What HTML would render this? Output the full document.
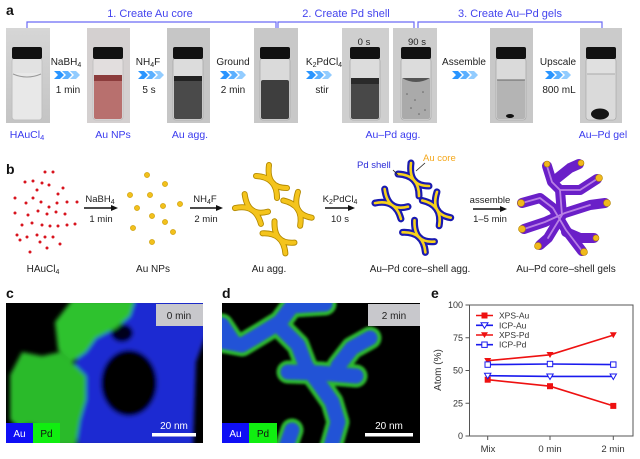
<!DOCTYPE html>
<html><head><meta charset="utf-8"><style>
html,body{margin:0;padding:0;background:#fff;}
svg{display:block;}
text{font-family:"Liberation Sans",sans-serif;}
</style></head><body>
<svg width="640" height="459" viewBox="0 0 640 459" xmlns="http://www.w3.org/2000/svg">
<defs>
  <linearGradient id="bg" x1="0" x2="0" y1="0" y2="1">
    <stop offset="0" stop-color="#d6d6d6"/><stop offset="1" stop-color="#c4c4c4"/>
  </linearGradient>
  <g id="chevs">
    <polygon points="0,0 6,0 10,4 6,8 0,8 4,4" fill="#2a95ff"/>
    <polygon points="8,0 14,0 18,4 14,8 8,8 12,4" fill="#5cb0ff"/>
    <polygon points="16,0 22,0 26,4 22,8 16,8 20,4" fill="#92ccff"/>
  </g>
  <g id="arcx">
    <path d="M-2,-17 Q-5,6 16,6" fill="none" stroke="#b48a00" stroke-width="6" stroke-linecap="round"/>
    <path d="M-15,-6 Q6,-5 6,16" fill="none" stroke="#b48a00" stroke-width="6" stroke-linecap="round"/>
    <path d="M-2,-17 Q-5,6 16,6" fill="none" stroke="#f4c41c" stroke-width="4.2" stroke-linecap="round"/>
    <path d="M-15,-6 Q6,-5 6,16" fill="none" stroke="#f4c41c" stroke-width="4.2" stroke-linecap="round"/>
  </g>
  <g id="csx">
    <path d="M-2,-17 Q-5,6 16,6" fill="none" stroke="#1a1ab0" stroke-width="7" stroke-linecap="round"/>
    <path d="M-15,-6 Q6,-5 6,16" fill="none" stroke="#1a1ab0" stroke-width="7" stroke-linecap="round"/>
    <path d="M-2,-17 Q-5,6 16,6" fill="none" stroke="#f7d21c" stroke-width="2.6" stroke-linecap="round"/>
    <path d="M-15,-6 Q6,-5 6,16" fill="none" stroke="#f7d21c" stroke-width="2.6" stroke-linecap="round"/>
  </g>
  <filter id="blur2"><feGaussianBlur stdDeviation="2.2"/></filter>
  <filter id="blur1"><feGaussianBlur stdDeviation="1.2"/></filter>
  <clipPath id="cpc"><rect x="6" y="303" width="197" height="140"/></clipPath>
  <clipPath id="cpd"><rect x="222" y="303" width="198" height="140"/></clipPath>
</defs>

<rect width="640" height="459" fill="#fff"/>

<!-- ===== Panel a ===== -->
<text x="6" y="15" font-size="14" font-weight="bold" fill="#111">a</text>
<g fill="#4444ee" font-size="11" text-anchor="middle">
  <text x="150" y="17">1. Create Au core</text>
  <text x="346" y="17">2. Create Pd shell</text>
  <text x="510" y="17">3. Create Au–Pd gels</text>
</g>
<g stroke="#6a6af5" stroke-width="1.2" fill="none">
  <path d="M27,28 V22 H276 V28"/>
  <path d="M278,28 V22 H414 V28"/>
  <path d="M418,28 V22 H602 V28"/>
</g>

<g transform="translate(6,28)">
  <rect width="44" height="95" fill="url(#bg)"/>
  <rect x="6" y="30" width="30" height="62" rx="3" fill="#e2e2e2" stroke="#bdbdbd" stroke-width="0.8"/>
  <rect x="7" y="45" width="28" height="46" rx="2" fill="#e8e8e8"/>
  <path d="M7,46 Q21,52 35,46" stroke="#999" stroke-width="1" fill="none"/>
  <rect x="6" y="19" width="30" height="12" rx="2" fill="#111"/>
</g>
<g transform="translate(87,28)">
  <rect width="43" height="95" fill="#d4d0d0"/>
  <rect x="6" y="30" width="30" height="62" rx="3" fill="#e2dede" stroke="#bdbdbd" stroke-width="0.8"/>
  <rect x="7" y="47" width="28" height="44" rx="2" fill="#b8706e"/>
  <rect x="7" y="47" width="28" height="6" fill="#8c3c3c"/>
  <rect x="6" y="19" width="30" height="12" rx="2" fill="#111"/>
</g>
<g transform="translate(167,28)">
  <rect width="43" height="95" fill="#c6c6c6"/>
  <rect x="6" y="30" width="30" height="62" rx="3" fill="#dcdcdc" stroke="#aaa" stroke-width="0.8"/>
  <rect x="7" y="48" width="28" height="43" rx="2" fill="#4a4a4a"/>
  <rect x="7" y="48" width="28" height="5" fill="#222"/>
  <rect x="6" y="19" width="30" height="12" rx="2" fill="#111"/>
</g>
<g transform="translate(254,28)">
  <rect width="44" height="95" fill="#c8c8c8"/>
  <rect x="6" y="30" width="30" height="62" rx="3" fill="#dadada" stroke="#aaa" stroke-width="0.8"/>
  <rect x="7" y="52" width="28" height="39" rx="2" fill="#3e3e3e"/>
  <rect x="6" y="19" width="30" height="12" rx="2" fill="#111"/>
</g>
<g transform="translate(342,28)">
  <rect width="47" height="95" fill="#cfcfcf"/>
  <text x="22" y="17" font-size="9.5" text-anchor="middle" fill="#222">0 s</text>
  <rect x="8" y="30" width="30" height="62" rx="3" fill="#dcdcdc" stroke="#aaa" stroke-width="0.8"/>
  <rect x="9" y="50" width="28" height="41" rx="2" fill="#484848"/>
  <rect x="9" y="50" width="28" height="6" fill="#2a2a2a"/>
  <rect x="8" y="19" width="30" height="12" rx="2" fill="#111"/>
</g>
<g transform="translate(393,28)">
  <rect width="44" height="95" fill="#cdcdcd"/>
  <text x="24" y="17" font-size="9.5" text-anchor="middle" fill="#222">90 s</text>
  <rect x="8" y="30" width="30" height="62" rx="3" fill="#dcdcdc" stroke="#aaa" stroke-width="0.8"/>
  <rect x="9" y="50" width="28" height="41" rx="2" fill="#aaaaaa"/>
  <path d="M9,50 Q23,58 37,50" fill="#555"/>
  <g fill="#666"><circle cx="14" cy="66" r="0.8"/><circle cx="22" cy="72" r="0.8"/><circle cx="30" cy="64" r="0.8"/><circle cx="18" cy="80" r="0.8"/><circle cx="32" cy="82" r="0.8"/><circle cx="26" cy="86" r="0.8"/></g>
  <rect x="8" y="19" width="30" height="12" rx="2" fill="#111"/>
</g>
<g transform="translate(490,28)">
  <rect width="43" height="95" fill="#c8c8c8"/>
  <rect x="6" y="30" width="30" height="62" rx="3" fill="#dadada" stroke="#aaa" stroke-width="0.8"/>
  <rect x="7" y="52" width="28" height="39" rx="2" fill="#b4b4b4"/>
  <line x1="7" y1="52" x2="35" y2="52" stroke="#666" stroke-width="1"/>
  <ellipse cx="20" cy="88" rx="4" ry="2" fill="#111"/>
  <rect x="6" y="19" width="30" height="12" rx="2" fill="#111"/>
</g>
<g transform="translate(580,28)">
  <rect width="42" height="95" fill="#cbcbcb"/>
  <rect x="6" y="30" width="30" height="62" rx="3" fill="#e0e0e0" stroke="#aaa" stroke-width="0.8"/>
  <rect x="7" y="46" width="28" height="45" rx="2" fill="#dadada"/>
  <line x1="7" y1="46" x2="35" y2="46" stroke="#999" stroke-width="0.8"/>
  <ellipse cx="20" cy="86" rx="9" ry="5.5" fill="#151515"/>
  <rect x="6" y="19" width="30" height="12" rx="2" fill="#111"/>
</g>

<g font-size="10" fill="#222" text-anchor="middle">
  <text x="66" y="65">NaBH<tspan font-size="7" dy="2">4</tspan></text>
  <use href="#chevs" x="54" y="71"/>
  <text x="68" y="93">1 min</text>
  <text x="148" y="65">NH<tspan font-size="7" dy="2">4</tspan><tspan dy="-2">F</tspan></text>
  <use href="#chevs" x="138" y="71"/>
  <text x="149" y="93">5 s</text>
  <text x="233" y="65">Ground</text>
  <use href="#chevs" x="220" y="71"/>
  <text x="233" y="93">2 min</text>
  <text x="324" y="65">K<tspan font-size="7" dy="2">2</tspan><tspan dy="-2">PdCl</tspan><tspan font-size="7" dy="2">4</tspan></text>
  <use href="#chevs" x="306" y="71"/>
  <text x="322" y="93">stir</text>
  <text x="464" y="65">Assemble</text>
  <use href="#chevs" x="452" y="71"/>
  <text x="558" y="65">Upscale</text>
  <use href="#chevs" x="545" y="71"/>
  <text x="559" y="93">800 mL</text>
</g>
<g font-size="10.5" fill="#3a3aee" text-anchor="middle">
  <text x="27" y="138">HAuCl<tspan font-size="7.5" dy="2">4</tspan></text>
  <text x="113" y="138">Au NPs</text>
  <text x="190" y="138">Au agg.</text>
  <text x="393" y="138">Au–Pd agg.</text>
  <text x="603" y="138">Au–Pd gel</text>
</g>

<!-- ===== Panel b ===== -->
<text x="6" y="174" font-size="14" font-weight="bold" fill="#111">b</text>
<g fill="#d8141e">
  <circle cx="45" cy="172" r="1.5"/><circle cx="53" cy="172" r="1.5"/><circle cx="25" cy="182" r="1.5"/><circle cx="33" cy="181" r="1.5"/>
  <circle cx="42" cy="183" r="1.5"/><circle cx="49" cy="185" r="1.5"/><circle cx="37" cy="190" r="1.5"/><circle cx="63" cy="188" r="1.5"/>
  <circle cx="58" cy="194" r="1.5"/><circle cx="15" cy="198" r="1.5"/><circle cx="26" cy="203" r="1.5"/><circle cx="33" cy="198" r="1.5"/>
  <circle cx="41" cy="202" r="1.5"/><circle cx="49" cy="207" r="1.5"/><circle cx="57" cy="203" r="1.5"/><circle cx="67" cy="202" r="1.5"/>
  <circle cx="77" cy="202" r="1.5"/><circle cx="15" cy="213" r="1.5"/><circle cx="28" cy="215" r="1.5"/><circle cx="38" cy="211" r="1.5"/>
  <circle cx="47" cy="214" r="1.5"/><circle cx="56" cy="212" r="1.5"/><circle cx="65" cy="214" r="1.5"/><circle cx="22" cy="225" r="1.5"/>
  <circle cx="32" cy="223" r="1.5"/><circle cx="42" cy="225" r="1.5"/><circle cx="50" cy="226" r="1.5"/><circle cx="58" cy="226" r="1.5"/>
  <circle cx="67" cy="225" r="1.5"/><circle cx="75" cy="224" r="1.5"/><circle cx="17" cy="235" r="1.5"/><circle cx="27" cy="237" r="1.5"/>
  <circle cx="37" cy="235" r="1.5"/><circle cx="45" cy="237" r="1.5"/><circle cx="53" cy="237" r="1.5"/><circle cx="40" cy="242" r="1.5"/>
  <circle cx="30" cy="252" r="1.5"/><circle cx="47" cy="248" r="1.5"/><circle cx="60" cy="244" r="1.5"/><circle cx="20" cy="240" r="1.5"/>
</g>
<g fill="#f2c01c" stroke="#c89a00" stroke-width="0.6">
  <circle cx="147" cy="175" r="2.6"/><circle cx="165" cy="184" r="2.6"/><circle cx="130" cy="195" r="2.6"/><circle cx="150" cy="195" r="2.6"/>
  <circle cx="137" cy="208" r="2.6"/><circle cx="163" cy="206" r="2.6"/><circle cx="180" cy="204" r="2.6"/><circle cx="152" cy="216" r="2.6"/>
  <circle cx="165" cy="222" r="2.6"/><circle cx="133" cy="228" r="2.6"/><circle cx="173" cy="232" r="2.6"/><circle cx="152" cy="242" r="2.6"/>
</g>
<g stroke="#111" stroke-width="1.4" fill="#111">
  <line x1="84" y1="208" x2="113" y2="208"/><polygon points="118,208 111,205 111,211" stroke="none"/>
  <line x1="190" y1="208" x2="218" y2="208"/><polygon points="223,208 216,205 216,211" stroke="none"/>
  <line x1="325" y1="208" x2="350" y2="208"/><polygon points="355,208 348,205 348,211" stroke="none"/>
  <line x1="473" y1="209" x2="502" y2="209"/><polygon points="507,209 500,206 500,212" stroke="none"/>
</g>
<g font-size="9.5" fill="#222" text-anchor="middle">
  <text x="100" y="202">NaBH<tspan font-size="7" dy="2">4</tspan></text>
  <text x="101" y="222">1 min</text>
  <text x="205" y="202">NH<tspan font-size="7" dy="2">4</tspan><tspan dy="-2">F</tspan></text>
  <text x="206" y="222">2 min</text>
  <text x="340" y="202">K<tspan font-size="7" dy="2">2</tspan><tspan dy="-2">PdCl</tspan><tspan font-size="7" dy="2">4</tspan></text>
  <text x="340" y="222">10 s</text>
  <text x="490" y="203">assemble</text>
  <text x="490" y="222">1–5 min</text>
</g>
<use href="#arcx" transform="translate(271,182)"/>
<use href="#arcx" transform="translate(251,210) rotate(-15)"/>
<use href="#arcx" transform="translate(297,209) rotate(10)"/>
<use href="#arcx" transform="translate(278,238) rotate(-5)"/>
<use href="#csx" transform="translate(413,180)"/>
<use href="#csx" transform="translate(391,205) rotate(-15)"/>
<use href="#csx" transform="translate(436,209) rotate(10)"/>
<use href="#csx" transform="translate(418,237) rotate(-5)"/>
<text x="357" y="168" font-size="9.5" fill="#2a2ad8">Pd shell</text>
<text x="423" y="161" font-size="9.5" fill="#f5a81c">Au core</text>
<line x1="393" y1="170" x2="398" y2="175" stroke="#222" stroke-width="0.8"/>
<line x1="425" y1="163" x2="416" y2="171" stroke="#222" stroke-width="0.8"/>
<g fill="none" stroke-linecap="round" stroke-linejoin="round">
  <g stroke="#6a1fc8" stroke-width="10">
    <path d="M547,166 L552,182 L560,190 L580,190 L597,179"/>
    <path d="M560,190 L562,215 L548,238 L540,245"/>
    <path d="M522,203 L540,198 L553,208 L566,230 L582,251"/>
    <path d="M524,229 L545,222 L565,213 L590,205 L605,203"/>
    <path d="M555,180 L570,168 L579,164"/>
    <path d="M566,232 L580,238 L594,238"/>
  </g>
  <g stroke="#c08ae8" stroke-width="1.8" opacity="0.9">
    <path d="M547,166 L552,182 L560,190 L580,190 L597,179"/>
    <path d="M560,190 L562,215 L548,238"/>
    <path d="M522,203 L540,198 L553,208 L566,230 L582,251"/>
    <path d="M524,229 L545,222 L565,213 L590,205"/>
  </g>
</g>
<g fill="#f0b91c" stroke="#b08000" stroke-width="0.6">
  <circle cx="599" cy="178" r="3.5"/><circle cx="607" cy="203" r="3.5"/><circle cx="521" cy="203" r="3.5"/>
  <circle cx="522" cy="229" r="3.5"/><circle cx="538" cy="246" r="3.5"/><circle cx="584" cy="252" r="3.5"/>
  <circle cx="581" cy="163" r="3"/><circle cx="596" cy="238" r="3"/><circle cx="547" cy="164" r="3"/>
</g>
<g font-size="10" fill="#222" text-anchor="middle">
  <text x="43" y="272">HAuCl<tspan font-size="7" dy="2">4</tspan></text>
  <text x="153" y="272">Au NPs</text>
  <text x="269" y="272">Au agg.</text>
  <text x="420" y="272">Au–Pd core–shell agg.</text>
  <text x="566" y="272">Au–Pd core–shell gels</text>
</g>

<!-- ===== Panel c ===== -->
<text x="6" y="298" font-size="14" font-weight="bold" fill="#111">c</text>
<rect x="6" y="303" width="197" height="140" fill="#000"/>
<g clip-path="url(#cpc)">
  <g filter="url(#blur2)">
    <polygon fill="#1e2bd2" points="118,300 206,300 206,335 196,362 193,446 78,446 76,400 72,370 84,345 100,330 112,318"/>
    <ellipse cx="129" cy="383" rx="28" ry="33" fill="#000"/>
    <ellipse cx="122" cy="333" rx="11" ry="9" fill="#03051a"/>
    <polygon fill="#2ec22e" points="55,322 72,300 135,300 130,316 116,328 96,338 86,352 72,362 58,350"/>
    <polygon fill="#2aba2a" points="10,375 22,352 42,356 60,352 72,362 86,376 86,400 80,420 76,446 40,446 10,420"/>
    <ellipse cx="30" cy="432" rx="12" ry="8" fill="#000"/>
  </g>
</g>
<rect x="156" y="304" width="47" height="22" fill="#c8c8cc"/>
<text x="179" y="319" font-size="10" text-anchor="middle" fill="#222">0 min</text>
<rect x="6" y="423" width="27" height="20" fill="#0f0ff5"/>
<rect x="33" y="423" width="27" height="20" fill="#10ee10"/>
<text x="19.5" y="437" font-size="10" text-anchor="middle" fill="#fff">Au</text>
<text x="46.5" y="437" font-size="10" text-anchor="middle" fill="#111">Pd</text>
<text x="174" y="429" font-size="10" text-anchor="middle" fill="#fff">20 nm</text>
<rect x="152" y="433" width="44" height="3.5" fill="#fff"/>

<!-- ===== Panel d ===== -->
<text x="222" y="298" font-size="14" font-weight="bold" fill="#111">d</text>
<rect x="222" y="303" width="198" height="140" fill="#000"/>
<g clip-path="url(#cpd)" fill="none" stroke-linecap="round" stroke-linejoin="round">
  <g stroke="#2dbb2d" stroke-width="23" filter="url(#blur1)">
    <path d="M215,340 L242,345 L262,333 L280,322 L292,306 L325,304"/>
    <path d="M222,325 L232,340"/>
    <path d="M278,325 L298,345 L306,366 L318,382 L332,402 L338,422 L330,450"/>
    <path d="M288,372 L320,373 L356,376"/>
    <path d="M338,366 L352,348 L370,338"/>
    <path d="M285,450 L292,430"/>
  </g>
  <g stroke="#2352d6" stroke-width="15" filter="url(#blur1)">
    <path d="M215,340 L242,345 L262,333 L280,322 L292,306 L325,304"/>
    <path d="M222,325 L232,340"/>
    <path d="M278,325 L298,345 L306,366 L318,382 L332,402 L338,422 L330,450"/>
    <path d="M288,372 L320,373 L356,376"/>
    <path d="M338,366 L352,348 L370,338"/>
    <path d="M285,450 L292,430"/>
  </g>
</g>
<rect x="368" y="304" width="52" height="22" fill="#c8c8cc"/>
<text x="394" y="319" font-size="10" text-anchor="middle" fill="#222">2 min</text>
<rect x="222" y="423" width="27" height="20" fill="#0f0ff5"/>
<rect x="249" y="423" width="28" height="20" fill="#10ee10"/>
<text x="235.5" y="437" font-size="10" text-anchor="middle" fill="#fff">Au</text>
<text x="263" y="437" font-size="10" text-anchor="middle" fill="#111">Pd</text>
<text x="389" y="429" font-size="10" text-anchor="middle" fill="#fff">20 nm</text>
<rect x="365" y="433" width="48" height="3.5" fill="#fff"/>

<!-- ===== Panel e ===== -->
<text x="431" y="298" font-size="14" font-weight="bold" fill="#111">e</text>
<rect x="469.5" y="305" width="163.5" height="131" fill="none" stroke="#555" stroke-width="1"/>
<g stroke="#555" stroke-width="1">
  <line x1="465.5" y1="305" x2="469.5" y2="305"/>
  <line x1="465.5" y1="337.75" x2="469.5" y2="337.75"/>
  <line x1="465.5" y1="370.5" x2="469.5" y2="370.5"/>
  <line x1="465.5" y1="403.25" x2="469.5" y2="403.25"/>
  <line x1="465.5" y1="436" x2="469.5" y2="436"/>
  <line x1="487.7" y1="436" x2="487.7" y2="440"/>
  <line x1="550" y1="436" x2="550" y2="440"/>
  <line x1="613.3" y1="436" x2="613.3" y2="440"/>
</g>
<g font-size="9" fill="#333" text-anchor="end">
  <text x="463" y="308">100</text>
  <text x="463" y="341">75</text>
  <text x="463" y="373.5">50</text>
  <text x="463" y="406.5">25</text>
  <text x="463" y="439">0</text>
</g>
<g font-size="9.5" fill="#333" text-anchor="middle">
  <text x="488" y="452">Mix</text>
  <text x="550" y="452">0 min</text>
  <text x="613" y="452">2 min</text>
</g>
<text transform="translate(441,370) rotate(-90)" font-size="10" fill="#333" text-anchor="middle">Atom (%)</text>
<g fill="none" stroke-width="1.6">
  <polyline stroke="#ee1111" points="487.7,379.7 550,386.2 613.3,405.9"/>
  <polyline stroke="#1a1aee" points="487.7,375.7 550,376.4 613.3,376.4"/>
  <polyline stroke="#ee1111" points="487.7,360.7 550,354.8 613.3,335.1"/>
  <polyline stroke="#1a1aee" points="487.7,364.6 550,364 613.3,364.6"/>
</g>
<g fill="#ee1111">
  <rect x="484.7" y="376.7" width="6" height="6"/><rect x="547" y="383.2" width="6" height="6"/><rect x="610.3" y="402.9" width="6" height="6"/>
  <polygon points="484.2,358 491.2,358 487.7,364"/><polygon points="546.5,352 553.5,352 550,358"/><polygon points="609.8,332.3 616.8,332.3 613.3,338.3"/>
</g>
<g fill="#fff" stroke="#1a1aee" stroke-width="1">
  <polygon points="484.5,373.3 490.9,373.3 487.7,378.8"/><polygon points="546.8,374 553.2,374 550,379.5"/><polygon points="610.1,374 616.5,374 613.3,379.5"/>
  <rect x="485" y="361.9" width="5.4" height="5.4"/><rect x="547.3" y="361.3" width="5.4" height="5.4"/><rect x="610.6" y="361.9" width="5.4" height="5.4"/>
</g>
<g stroke-width="1.6">
  <line x1="476" y1="315.5" x2="493" y2="315.5" stroke="#ee1111"/>
  <line x1="476" y1="325.3" x2="493" y2="325.3" stroke="#1a1aee"/>
  <line x1="476" y1="335" x2="493" y2="335" stroke="#ee1111"/>
  <line x1="476" y1="344.7" x2="493" y2="344.7" stroke="#1a1aee"/>
</g>
<rect x="481.5" y="312.5" width="6" height="6" fill="#ee1111"/>
<polygon points="481,322.8 488,322.8 484.5,328.3" fill="#fff" stroke="#1a1aee" stroke-width="1"/>
<polygon points="481,332.2 488,332.2 484.5,338" fill="#ee1111"/>
<rect x="481.8" y="342" width="5.4" height="5.4" fill="#fff" stroke="#1a1aee" stroke-width="1"/>
<g font-size="8.5" fill="#333">
  <text x="499" y="318.5">XPS-Au</text>
  <text x="499" y="328.3">ICP-Au</text>
  <text x="499" y="338">XPS-Pd</text>
  <text x="499" y="347.7">ICP-Pd</text>
</g>
</svg>
</body></html>
